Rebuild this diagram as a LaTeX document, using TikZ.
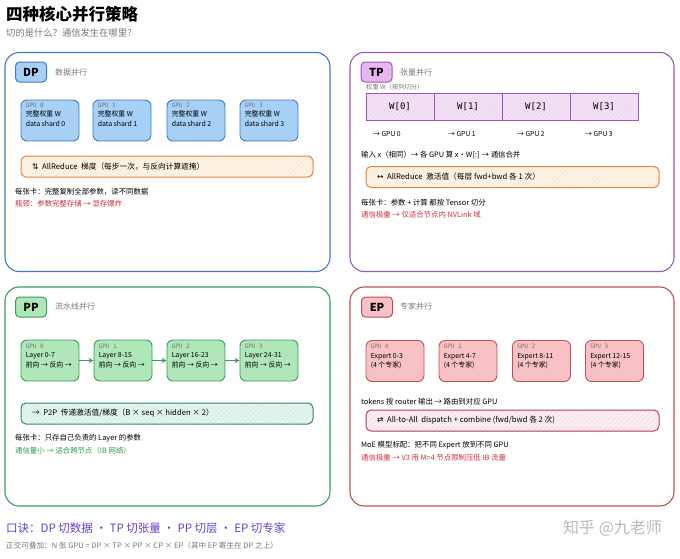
\documentclass[tikz,border=0pt]{standalone}
\usepackage{fontspec}
\setmainfont{Noto Sans CJK SC}
\newfontfamily\monof{DejaVu Sans Mono}
\newfontfamily\symf{DejaVu Sans}
\usetikzlibrary{patterns,patterns.meta,arrows.meta}
\definecolor{dpline}{HTML}{3F7DB8}
\definecolor{dpfill}{HTML}{A6D0F5}
\definecolor{tpline}{HTML}{9A58B4}
\definecolor{tpfill}{HTML}{E9B6F2}
\definecolor{tpcell}{HTML}{F6E2F7}
\definecolor{ppline}{HTML}{3C9A5C}
\definecolor{ppfill}{HTML}{AFE7B8}
\definecolor{epline}{HTML}{C0504D}
\definecolor{epfill}{HTML}{F8C1C5}
\definecolor{orline}{HTML}{E08442}
\definecolor{orfill}{HTML}{FDF3E2}
\definecolor{tealline}{HTML}{2E8A6A}
\definecolor{tealfill}{HTML}{E2F5EE}
\definecolor{pkline}{HTML}{B0405E}
\definecolor{pkfill}{HTML}{FCEDF1}
\definecolor{redtxt}{HTML}{D0303A}
\definecolor{greentxt}{HTML}{2E9A4A}
\definecolor{purptxt}{HTML}{6B3FC8}
\definecolor{graytxt}{HTML}{777777}
\begin{document}
\begin{tikzpicture}[x=1pt,y=-1pt,
  panel/.style={draw=#1, line width=1.1pt, rounded corners=14pt, inner sep=0pt},
  badge/.style={rounded corners=4pt, line width=1pt, minimum width=31pt, minimum height=20pt, inner sep=0pt, font=\bfseries\fontsize{11}{11}\selectfont},
  gpub/.style={rounded corners=6pt, line width=0.9pt, minimum width=58pt, minimum height=41pt, inner sep=0pt},
  gtxt/.style={anchor=north west, inner sep=0pt, align=left, font=\fontsize{6.9}{9.5}\selectfont},
  hbox/.style={rounded corners=5pt, line width=1pt, minimum width=292pt, minimum height=21pt, inner sep=0pt},
  hatch/.style={preaction={fill=#1}, pattern={Lines[angle=45,distance=3.5pt,line width=0.35pt]}},
  wcell/.style={draw=tpline, line width=0.8pt, preaction={fill=tpcell}, pattern={Hatch[angle=45,distance=3pt,line width=0.3pt]}, pattern color=tpline!25, minimum width=68pt, minimum height=27pt, inner sep=0pt, font=\monof\fontsize{9}{9}\selectfont},
  txt/.style={anchor=west, inner sep=0pt, font=\fontsize{7.4}{9}\selectfont},
  sub/.style={anchor=west, inner sep=0pt, text=graytxt, font=\fontsize{8}{9}\selectfont},
  small/.style={anchor=west, inner sep=0pt, text=graytxt, font=\fontsize{6.3}{8}\selectfont},
  arr/.style={draw=ppline, line width=1pt, -{Stealth[length=5pt,width=5pt]}}
]
\useasboundingbox (0,0) rectangle (680,558);

% title
\node[anchor=west, inner sep=0pt, font=\bfseries\fontsize{16.5}{18}\selectfont] (title) at (6,14) {四种核心并行策略};
\node[anchor=west, inner sep=0pt, text=graytxt, font=\fontsize{9.3}{10}\selectfont] (subtitle) at (6,33) {切的是什么？通信发生在哪里？};

% ================= DP =================
\node[panel=dpline, minimum width=325pt, minimum height=219pt] (dp) at (167.5,162) {};
\node[badge, draw=dpline, fill=dpfill] (dpb) at (31,72) {DP};
\node[sub] (dps) at (55,72) {数据并行};
\foreach \i/\x in {0/50,1/122,2/196,3/269}{
  \node[gpub, draw=dpline, fill=dpfill] (dg\i) at (\x,120.5) {};
  \node[gtxt] (dg\i t) at ([xshift=5pt,yshift=-3pt]dg\i.north west) {{\monof\color{graytxt}\fontsize{6}{9.5}\selectfont GPU \i}\\完整权重 W\\data shard \i};
}
\node[hbox, draw=orline, hatch=orfill, pattern color=orline!22] (dpar) at (167,166.5) {};
\node[txt, font=\fontsize{7.7}{9}\selectfont] (dpart) at (32,166.5) {{\symf ⇅}\ \ \textit{AllReduce}\ \ 梯度（每步一次，与反向计算遮掩）};
\node[txt] (dpl1) at (15,192) {每张卡：完整复制全部参数，读不同数据};
\node[txt, text=redtxt] (dpl2) at (15,204) {瓶颈：参数完整存储 → 显存爆炸};

% ================= TP =================
\node[panel=tpline, minimum width=324pt, minimum height=219pt] (tp) at (512,162) {};
\node[badge, draw=tpline, fill=tpfill] (tpb) at (376.5,72) {TP};
\node[sub] (tps) at (400,72) {张量并行};
\node[small] (tpw) at (366,87) {权重 W（按列切分）};
\foreach \i/\x in {0/400,1/468,2/536,3/604}{
  \node[wcell] (w\i) at (\x,106.5) {W[\i]};
}
\foreach \i/\x in {0/373,1/448,2/517,3/585}{
  \node[anchor=west, inner sep=0pt, font=\fontsize{6.8}{8}\selectfont] (tg\i) at (\x,134) {→ GPU \i};
}
\node[txt] (tpin) at (361,155) {输入 x（相同）→ 各 GPU 算 x·W[:] → 通信合并};
\node[hbox, draw=orline, hatch=orfill, pattern color=orline!22, minimum width=293pt] (tpar) at (512.5,177) {};
\node[txt, font=\fontsize{7.7}{9}\selectfont] (tpart) at (377,177) {{\symf ↔}\ \ \textit{AllReduce}\ \ 激活值（每层 fwd+bwd 各 1 次）};
\node[txt] (tpl1) at (361,203) {每张卡：参数 + 计算 都按 Tensor 切分};
\node[txt, text=redtxt] (tpl2) at (361,215) {通信极重 → 仅适合节点内 NVLink 域};

% ================= PP =================
\node[panel=ppline, minimum width=325pt, minimum height=219pt] (pp) at (167.5,396.5) {};
\node[badge, draw=ppline, fill=ppfill] (ppb) at (31,307) {PP};
\node[sub] (pps) at (55,306) {流水线并行};
\foreach \i/\x/\l in {0/50/0-7,1/123/8-15,2/196/16-23,3/269/24-31}{
  \node[gpub, draw=ppline, fill=ppfill] (pg\i) at (\x,360.5) {};
  \node[gtxt] (pg\i t) at ([xshift=5pt,yshift=-4pt]pg\i.north west) {{\monof\color{graytxt}\fontsize{6}{9.5}\selectfont GPU \i}\\Layer \l\\前向 → 反向 →};
}
\draw[arr] (pg0) -- (pg1);
\draw[arr] (pg1) -- (pg2);
\draw[arr] (pg2) -- (pg3);
\node[hbox, draw=tealline, hatch=tealfill, pattern color=tealline!22] (ppar) at (167,413.5) {};
\node[txt, font=\fontsize{7.7}{9}\selectfont] (ppart) at (32,413.5) {→\ \ P2P\ \ 传递激活值/梯度（B × seq × hidden × 2）};
\node[txt] (ppl1) at (15,438) {每张卡：只存自己负责的 \textit{Layer} 的参数};
\node[txt, text=greentxt] (ppl2) at (15,451) {通信量小 → 适合跨节点（IB 网络）};

% ================= EP =================
\node[panel=epline, minimum width=324pt, minimum height=219pt] (ep) at (512,396.5) {};
\node[badge, draw=epline, fill=epfill] (epb) at (377,307) {EP};
\node[sub] (eps) at (400,306) {专家并行};
\foreach \i/\x/\l in {0/395/0-3,1/468/4-7,2/541.5/8-11,3/614.5/12-15}{
  \node[gpub, draw=epline, fill=epfill] (eg\i) at (\x,361) {};
  \node[gtxt] (eg\i t) at ([xshift=5pt,yshift=-4pt]eg\i.north west) {{\monof\color{graytxt}\fontsize{6}{9.5}\selectfont GPU \i}\\Expert \l\\(4 个专家)};
}
\node[txt] (eptk) at (361,402) {tokens 按 router 输出 → 路由到对应 GPU};
\node[hbox, draw=pkline, hatch=pkfill, pattern color=pkline!22, minimum width=293pt] (epar) at (512.5,420.5) {};
\node[txt, font=\fontsize{7.7}{9}\selectfont] (epart) at (377,420.5) {{\symf ⇄}\ \ \textit{All-to-All}\ \ dispatch + combine (fwd/bwd 各 2 次)};
\node[txt] (epl1) at (361,445) {MoE 模型标配：把不同 Expert 放到不同 GPU};
\node[txt, text=redtxt] (epl2) at (361,458) {通信极重 → V3 用 M=4 节点限制压低 IB 流量};

% ================= bottom =================
\node[anchor=west, inner sep=0pt, text=purptxt, font=\fontsize{11.5}{12}\selectfont] (motto) at (6,528) {口诀：DP 切数据 · TP 切张量 · PP 切层 · EP 切专家};
\node[anchor=west, inner sep=0pt, text=graytxt, font=\fontsize{7.6}{8}\selectfont] (orth) at (6,546) {正交可叠加：N 张 GPU = DP × TP × PP × CP × EP（其中 EP 寄生在 DP 之上）};
\node[anchor=west, inner sep=0pt, text=gray!55, font=\fontsize{16}{17}\selectfont] (wm) at (563,528) {知乎 @九老师};
\end{tikzpicture}
\end{document}
